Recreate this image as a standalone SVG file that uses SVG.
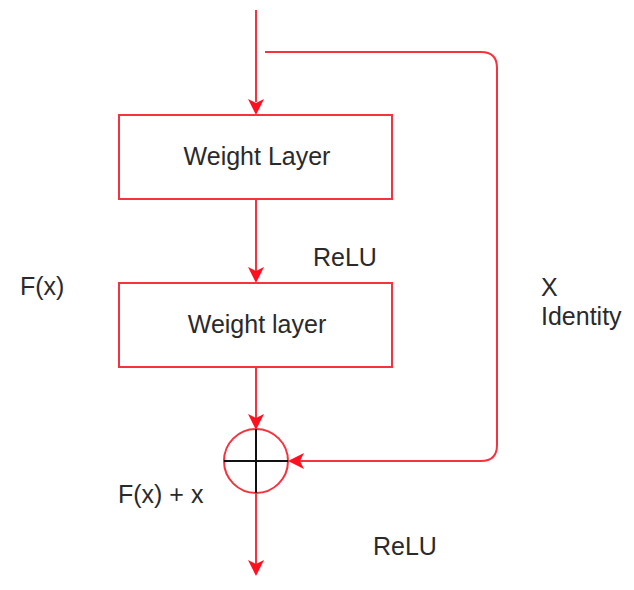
<svg xmlns="http://www.w3.org/2000/svg" width="634" height="590" viewBox="0 0 634 590">
<style>
.box{fill:#fff;stroke:#f5333d;stroke-width:2}
.ln{fill:none;stroke:#f5333d;stroke-width:2}
.ah{fill:#ff1020}
.t{font-family:"Liberation Sans",Arial,sans-serif;font-size:25px;fill:#2a2a2a}
.c{text-anchor:middle}
</style>
<rect width="634" height="590" fill="#fff"/>
<g id="connectors">
<line class="ln" x1="256" y1="10" x2="256" y2="102"/>
<path class="ah" d="M248,99 L256,103 L264,99 L256,115 Z"/>
<line class="ln" x1="256" y1="199" x2="256" y2="271"/>
<path class="ah" d="M248,267 L256,271 L264,267 L256,283 Z"/>
<line class="ln" x1="256" y1="367" x2="256" y2="418"/>
<path class="ah" d="M248,414 L256,418 L264,414 L256,430 Z"/>
<line class="ln" x1="256" y1="493" x2="256" y2="564"/>
<path class="ah" d="M248,560 L256,564 L264,560 L256,576 Z"/>
<path class="ln" d="M265,52 H481 Q497,52 497,68 V445 Q497,461 481,461 H300"/>
<path class="ah" d="M304,453 L300,461 L304,469 L288,461 Z"/>
</g>
<g id="weight1">
<rect class="box" x="119" y="115" width="273" height="84"/>
<text class="t c" x="257" y="165">Weight Layer</text>
</g>
<g id="weight2">
<rect class="box" x="119" y="283" width="273" height="84"/>
<text class="t c" x="257" y="333">Weight layer</text>
</g>
<g id="sum">
<circle cx="256" cy="461" r="32" fill="#fff" stroke="#f5333d" stroke-width="2"/>
<line x1="224" y1="461" x2="288" y2="461" stroke="#111" stroke-width="2"/>
<line x1="256" y1="429" x2="256" y2="493" stroke="#111" stroke-width="2"/>
</g>
<g id="labels">
<text class="t" x="313" y="266">ReLU</text>
<text class="t" x="20" y="295">F(x)</text>
<text class="t" x="541" y="296">X</text>
<text class="t" x="541" y="325">Identity</text>
<text class="t" x="118" y="503">F(x) + x</text>
<text class="t" x="373" y="555">ReLU</text>
</g>
</svg>
